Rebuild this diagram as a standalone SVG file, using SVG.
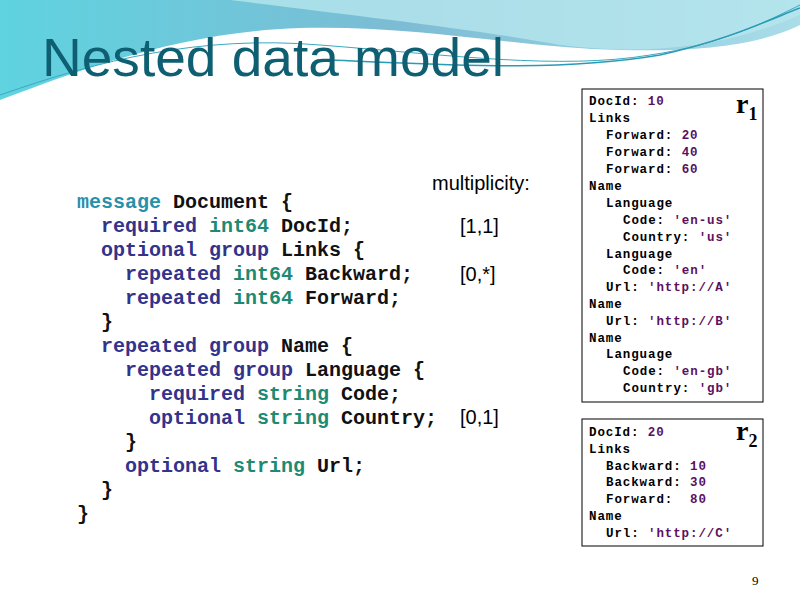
<svg xmlns="http://www.w3.org/2000/svg" width="800" height="600" viewBox="0 0 800 600">
<defs>
<linearGradient id="bg" x1="0" y1="0" x2="1" y2="0">
<stop offset="0" stop-color="#5fd3e0"/><stop offset="0.5" stop-color="#7cbcd4"/><stop offset="1" stop-color="#a9dde8"/>
</linearGradient>
<style>
.code{font-family:"Liberation Mono",monospace;font-size:20px;font-weight:bold;fill:#111}
.k{fill:#33338a}
.t{fill:#1e8a72}
.msg{fill:#2a8fa8}
.m{font-family:"Liberation Sans",Arial,sans-serif;font-size:20px;fill:#000}
.rec{font-family:"Liberation Mono",monospace;font-size:12.5px;font-weight:bold;fill:#000;letter-spacing:0.9px}
.v{fill:#5a1060}
.box{fill:#fff;stroke:#000;stroke-width:1}
.r{font-family:"Liberation Serif",serif;font-weight:bold;font-size:28px}
</style>
</defs>
<rect width="800" height="600" fill="#fff"/>
<path d="M0,0 H800 V25 C760,45 700,52 620,50 C520,48 420,25 300,28 C180,32 80,70 0,100 Z" fill="url(#bg)"/>
<path d="M230,0 C350,15 480,30 560,45 C640,55 720,50 800,15 V0 Z" fill="#b6e6ee" opacity="0.8"/>
<path d="M0,95 C100,60 200,35 320,45 C450,55 560,70 650,55 C720,45 770,20 800,5" fill="none" stroke="#3aa9c0" stroke-width="1"/>
<path d="M330,60 C450,65 560,72 660,55 C730,40 780,15 800,8" fill="none" stroke="#2a9ab5" stroke-width="1.5"/>
<text x="42" y="76" font-family="Liberation Sans,Arial,sans-serif" font-size="54" fill="#0e5f72" textLength="462" lengthAdjust="spacingAndGlyphs">Nested data model</text>

<g id="schema">
<text class="code"><tspan x="77" y="208"><tspan class="msg">message</tspan> Document {</tspan>
<tspan x="101" y="232"><tspan class="k">required</tspan> <tspan class="t">int64</tspan> DocId;</tspan>
<tspan x="101" y="256"><tspan class="k">optional group</tspan> Links {</tspan>
<tspan x="125" y="280"><tspan class="k">repeated</tspan> <tspan class="t">int64</tspan> Backward;</tspan>
<tspan x="125" y="304"><tspan class="k">repeated</tspan> <tspan class="t">int64</tspan> Forward;</tspan>
<tspan x="101" y="328">}</tspan>
<tspan x="101" y="352"><tspan class="k">repeated group</tspan> Name {</tspan>
<tspan x="125" y="376"><tspan class="k">repeated group</tspan> Language {</tspan>
<tspan x="149" y="400"><tspan class="k">required</tspan> <tspan class="t">string</tspan> Code;</tspan>
<tspan x="149" y="424"><tspan class="k">optional</tspan> <tspan class="t">string</tspan> Country;</tspan>
<tspan x="125" y="448">}</tspan>
<tspan x="125" y="472"><tspan class="k">optional</tspan> <tspan class="t">string</tspan> Url;</tspan>
<tspan x="101" y="496">}</tspan>
<tspan x="77" y="520">}</tspan></text>
</g>
<g id="multiplicity">
<text class="m" x="432" y="190">multiplicity:</text>
<text class="m" x="460" y="233">[1,1]</text>
<text class="m" x="460" y="281">[0,*]</text>
<text class="m" x="460" y="424">[0,1]</text>
</g>

<g id="r1">
<rect class="box" x="582" y="89" width="181" height="313"/>
<text class="r" x="736" y="113">r<tspan font-size="18" dy="7">1</tspan></text>
<text class="rec">
<tspan x="589" y="105">DocId: <tspan class="v">10</tspan></tspan>
<tspan x="589" y="122">Links</tspan>
<tspan x="606" y="139">Forward: <tspan class="v">20</tspan></tspan>
<tspan x="606" y="156">Forward: <tspan class="v">40</tspan></tspan>
<tspan x="606" y="173">Forward: <tspan class="v">60</tspan></tspan>
<tspan x="589" y="190">Name</tspan>
<tspan x="606" y="207">Language</tspan>
<tspan x="623" y="224">Code: <tspan class="v">'en-us'</tspan></tspan>
<tspan x="623" y="241">Country: <tspan class="v">'us'</tspan></tspan>
<tspan x="606" y="258">Language</tspan>
<tspan x="623" y="274">Code: <tspan class="v">'en'</tspan></tspan>
<tspan x="606" y="291">Url: <tspan class="v">'http://A'</tspan></tspan>
<tspan x="589" y="308">Name</tspan>
<tspan x="606" y="325">Url: <tspan class="v">'http://B'</tspan></tspan>
<tspan x="589" y="342">Name</tspan>
<tspan x="606" y="358">Language</tspan>
<tspan x="623" y="375">Code: <tspan class="v">'en-gb'</tspan></tspan>
<tspan x="623" y="392">Country: <tspan class="v">'gb'</tspan></tspan>
</text>
</g>

<g id="r2">
<rect class="box" x="582" y="419" width="181" height="127"/>
<text class="r" x="736" y="440">r<tspan font-size="18" dy="7">2</tspan></text>
<text class="rec">
<tspan x="589" y="436">DocId: <tspan class="v">20</tspan></tspan>
<tspan x="589" y="453">Links</tspan>
<tspan x="606" y="470">Backward: <tspan class="v">10</tspan></tspan>
<tspan x="606" y="486">Backward: <tspan class="v">30</tspan></tspan>
<tspan x="606" y="503">Forward: <tspan class="v" x="690">80</tspan></tspan>
<tspan x="589" y="520">Name</tspan>
<tspan x="606" y="537">Url: <tspan class="v">'http://C'</tspan></tspan>
</text>
</g>
<text x="752" y="585" font-family="Liberation Serif,serif" font-size="13">9</text>
</svg>
